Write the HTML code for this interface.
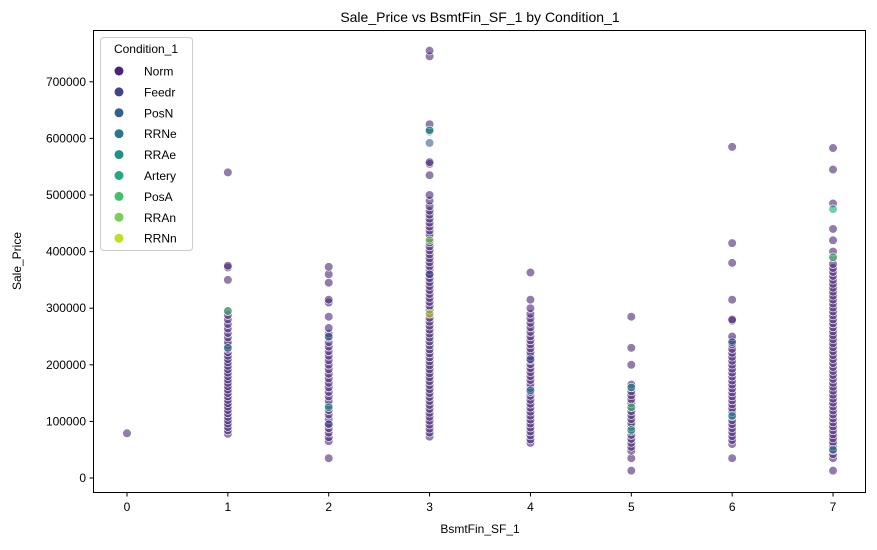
<!DOCTYPE html>
<html><head><meta charset="utf-8"><style>
body{margin:0;background:#fff;}
svg{font-family:"Liberation Sans","DejaVu Sans",sans-serif;}
</style></head><body>
<svg id="chart" width="877" height="545">
<rect width="877" height="545" fill="#fff"/>
<text x="480" y="22" text-anchor="middle" font-size="14">Sale_Price vs BsmtFin_SF_1 by Condition_1</text>
<g id="plot"></g>
<rect x="93.5" y="30.5" width="772" height="462" fill="none" stroke="#000" stroke-width="1"/>
<g id="axes"></g>
<text x="480" y="533" text-anchor="middle" font-size="12">BsmtFin_SF_1</text>
<text transform="translate(21,261) rotate(-90)" text-anchor="middle" font-size="12">Sale_Price</text>
<g id="legend"></g>
</svg>
<script>
// values in thousands of dollars per BsmtFin_SF_1 level
const levels=[0,1,2,3,4,5,6,7];
const pricesL0=[79];
const pricesL1=[78,84,90,96,102,108,114,120,126,132,138,144,150,156,162,168,174,180,186,192,198,204,210,216,222,228,234,240,248,256,264,272,280,288,295,350,372,375,540];
const pricesL2=[35,65,72,80,88,96,104,112,120,128,136,144,152,160,168,176,184,192,200,208,216,224,232,240,248,255,265,285,310,315,345,360,373];
const pricesL3=[73,80,87,94,101,108,115,122,129,136,143,150,157,164,171,178,185,192,199,206,213,220,227,234,241,248,255,262,269,276,283,290,297,304,311,318,325,332,339,346,353,360,367,374,381,388,395,402,409,416,423,430,437,444,451,458,465,472,480,490,500,535,555,558,612,615,625,745,755];
const pricesL4=[62,68,75,82,89,96,103,110,117,124,131,138,145,152,159,166,173,180,187,194,201,208,215,222,229,236,243,250,258,266,274,282,290,300,315,363];
const pricesL5=[13,35,48,55,62,69,76,83,90,97,104,111,118,125,132,139,146,153,160,165,200,230,285];
const pricesL6=[35,60,67,74,81,88,95,102,109,116,123,130,137,144,151,158,165,172,179,186,193,200,207,214,221,228,236,243,250,278,280,315,380,415,585];
const pricesL7=[13,35,42,49,56,63,70,77,84,91,98,105,112,119,126,133,140,147,154,161,168,175,182,189,196,203,210,217,224,231,238,245,252,259,266,273,280,287,294,301,308,315,322,329,336,343,350,357,364,371,378,390,400,420,440,485,545,583];
const allPrices=[pricesL0,pricesL1,pricesL2,pricesL3,pricesL4,pricesL5,pricesL6,pricesL7];
// non-Norm points: level, price, condition index
const specialLevel=[3,3,3,3,1,1,2,2,4,4,5,5,5,6,6,7,7,7,2,3];
const specialPrice=[592,614,420,290,295,230,125,250,210,155,85,160,125,240,110,475,390,50,95,360];
const specialCond=[2,5,7,8,6,3,4,2,1,3,5,4,6,2,4,5,6,3,1,1];
const categories=["Norm","Feedr","PosN","RRNe","RRAe","Artery","PosA","RRAn","RRNn"];
const colors=["#482475","#414487","#355f8d","#2a788e","#21918c","#22a884","#44bf70","#7ad151","#bddf26"];
const xTicks=[0,1,2,3,4,5,6,7];
const yTicks=[0,100000,200000,300000,400000,500000,600000,700000];

const NS="http://www.w3.org/2000/svg";
const xs=v=>127+v*100.86;
const ys=v=>478-v/1000*0.566;
const plot=document.getElementById('plot');
function dot(l,p,c){
  const e=document.createElementNS(NS,'circle');
  e.setAttribute('cx',xs(l));e.setAttribute('cy',ys(p*1000));e.setAttribute('r',4.3);
  e.setAttribute('fill',colors[c]);e.setAttribute('fill-opacity',0.6);
  e.setAttribute('stroke','#fff');e.setAttribute('stroke-width',0.6);
  
  
  plot.appendChild(e);
}
allPrices.forEach((arr,i)=>arr.forEach(p=>dot(levels[i],p,0)));
specialLevel.forEach((l,i)=>dot(l,specialPrice[i],specialCond[i]));

const axes=document.getElementById('axes');
xTicks.forEach(t=>{
  const l=document.createElementNS(NS,'line');
  l.setAttribute('x1',xs(t));l.setAttribute('x2',xs(t));l.setAttribute('y1',492.5);l.setAttribute('y2',496.5);l.setAttribute('stroke','#000');
  
  
  axes.appendChild(l);
  const tx=document.createElementNS(NS,'text');
  tx.setAttribute('x',xs(t));tx.setAttribute('y',511);tx.setAttribute('text-anchor','middle');tx.setAttribute('font-size',12);
  tx.textContent=t;
  
  
  axes.appendChild(tx);
});
yTicks.forEach(t=>{
  const l=document.createElementNS(NS,'line');
  l.setAttribute('x1',89.5);l.setAttribute('x2',93.5);l.setAttribute('y1',ys(t));l.setAttribute('y2',ys(t));l.setAttribute('stroke','#000');
  
  
  axes.appendChild(l);
  const tx=document.createElementNS(NS,'text');
  tx.setAttribute('x',86);tx.setAttribute('y',ys(t)+4);tx.setAttribute('text-anchor','end');tx.setAttribute('font-size',12);
  tx.textContent=t;
  
  
  axes.appendChild(tx);
});

const lg=document.getElementById('legend');
const box=document.createElementNS(NS,'rect');
box.setAttribute('x',100.5);box.setAttribute('y',37.5);box.setAttribute('width',92);box.setAttribute('height',213);box.setAttribute('rx',3);
box.setAttribute('fill','#fff');box.setAttribute('fill-opacity',0.8);box.setAttribute('stroke','#ccc');


lg.appendChild(box);
const lt=document.createElementNS(NS,'text');
lt.setAttribute('x',146);lt.setAttribute('y',53);lt.setAttribute('text-anchor','middle');lt.setAttribute('font-size',12);lt.textContent='Condition_1';


lg.appendChild(lt);
categories.forEach((c,i)=>{
  const y=71+i*20.9;
  const g=document.createElementNS(NS,'g');
  
  
  const m=document.createElementNS(NS,'circle');
  m.setAttribute('cx',119);m.setAttribute('cy',y);m.setAttribute('r',4.5);m.setAttribute('fill',colors[i]);
  g.appendChild(m);
  const t=document.createElementNS(NS,'text');
  t.setAttribute('x',144);t.setAttribute('y',y+4.5);t.setAttribute('font-size',12);t.textContent=c;
  g.appendChild(t);
  lg.appendChild(g);
});
</script>
</body></html>
